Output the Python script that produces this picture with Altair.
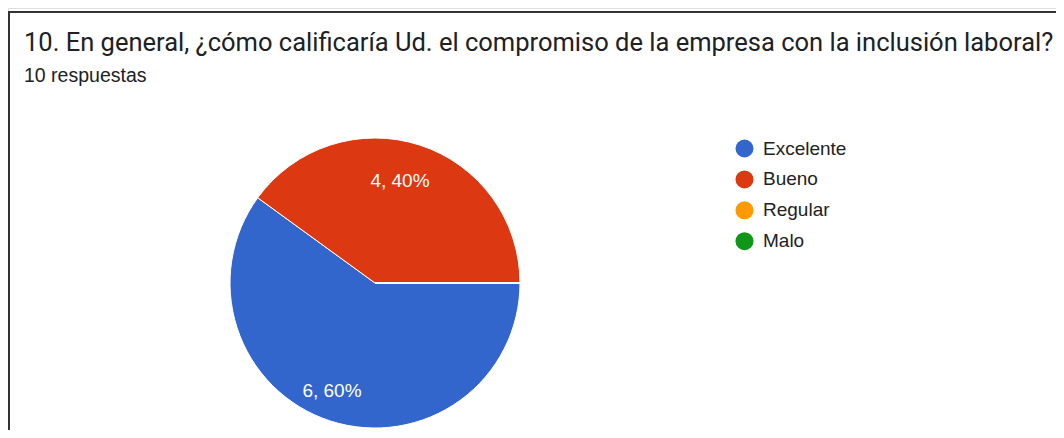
import math
import altair as alt
import pandas as pd

title_text = "10. En general, ¿cómo calificaría Ud. el compromiso de la empresa con la inclusión laboral?"
subtitle_text = "10 respuestas"
categories = ["Excelente", "Bueno", "Regular", "Malo"]
counts = [6, 4, 0, 0]
colors = ["#3366cc", "#dc3912", "#ff9900", "#109618"]

FONT = "Liberation Sans"

total = sum(counts)
df = pd.DataFrame({
    "cat": categories,
    "count": counts,
    "idx": list(range(len(categories))),
    "label": [f"{c}, {round(100 * c / total)}%" for c in counts],
})

W, H = 1048, 422
CX, CY, R = 367, 275, 145

theta_scale = alt.Scale(range=[math.pi / 2, math.pi / 2 + 2 * math.pi])

base = alt.Chart(df)

pie = base.mark_arc(outerRadius=R, stroke="white", strokeWidth=1).encode(
    theta=alt.Theta("count:Q", stack=True, scale=theta_scale),
    color=alt.Color(
        "cat:N",
        scale=alt.Scale(domain=categories, range=colors),
        sort=categories,
        legend=alt.Legend(
            title=None,
            orient="none",
            legendX=727,
            legendY=131,
            symbolType="circle",
            symbolSize=324,
            symbolStrokeWidth=0,
            labelFont=FONT,
            labelFontSize=19,
            labelColor="#222222",
            labelOffset=9,
            rowPadding=10.9,
            padding=0,
        ),
    ),
    order=alt.Order("idx:Q"),
    x=alt.value(CX),
    y=alt.value(CY),
)

labels = base.transform_filter("datum.count > 0").mark_text(
    radius=110, dx=-9, dy=3, font=FONT, fontSize=19, color="white"
).encode(
    theta=alt.Theta("count:Q", stack=True, scale=theta_scale),
    order=alt.Order("idx:Q"),
    text="label:N",
    x=alt.value(CX),
    y=alt.value(CY),
)

tdf = pd.DataFrame({"t": [title_text]})
sdf = pd.DataFrame({"t": [subtitle_text]})

title = alt.Chart(tdf).mark_text(
    align="left", baseline="alphabetic", font="Roboto", fontSize=25.5, color="#202124"
).encode(text="t:N", x=alt.value(16), y=alt.value(43))

subtitle = alt.Chart(sdf).mark_text(
    align="left", baseline="alphabetic", font=FONT, fontSize=19.5, color="#202124"
).encode(text="t:N", x=alt.value(16), y=alt.value(74))

border = alt.Chart(tdf).mark_rect(
    fill=None, stroke="#333333", strokeWidth=2
).encode(x=alt.value(1), x2=alt.value(1200), y=alt.value(4), y2=alt.value(800))

chart = alt.layer(border, pie, labels, title, subtitle).properties(
    width=W, height=H, autosize=alt.AutoSizeParams(type="none"), padding=0
).configure_view(stroke=None).configure(background="white")

chart.save("out.html", embed_options={"renderer": "svg", "actions": False})
